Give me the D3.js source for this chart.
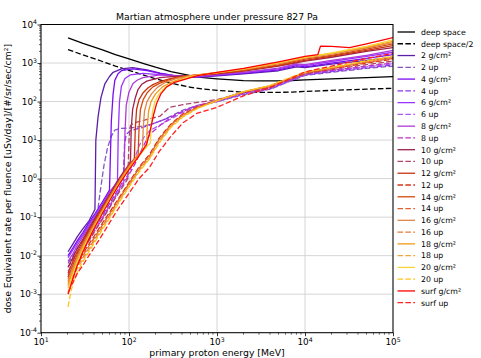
<!DOCTYPE html>
<html><head><meta charset="utf-8">
<script src="https://cdn.jsdelivr.net/npm/d3@7"></script>
<style>body{margin:0;background:#fff}svg{display:block}text{font-family:"DejaVu Sans",sans-serif}</style>
</head><body><svg id="c" width="481" height="358"></svg>
<script>
// ---- data: [energy MeV, dose rate per fluence] ----
const deepSpace=[[20.3,4470],[30,3240],[50,2190],[70,1660],[100,1290],[150,955],[200,780],[300,600],[500,470],[700,420],[1000,390],[1500,365],[2000,350],[3000,345],[5000,345],[7000,352],[10000,365],[20000,390],[50000,420],[100000,442]];
const deepSpaceHalf=[[20.3,2235],[30,1620],[50,1095],[70,830],[100,645],[150,478],[200,390],[300,300],[500,235],[700,210],[1000,195],[1500,183],[2000,175],[3000,173],[5000,173],[7000,176],[10000,183],[20000,195],[50000,210],[100000,221]];
const g2=[[20.3,0.0126],[23,0.020],[26,0.0316],[30,0.050],[35,0.079],[41,0.158],[42,10],[44.5,40],[48,126],[53,282],[60,447],[66,575],[82,708],[110,759],[160,661],[225,550],[350,457],[500,427],[700,437],[1000,468],[2000,525],[5000,631],[8000,794],[10000,759],[20000,933],[50000,1175],[100000,1413]];
const up2=[[20.3,0.0063],[23,0.010],[26,0.0158],[30,0.025],[35,0.0447],[40,0.079],[44,0.141],[47,0.447],[52,2.24],[57,6.31],[63,12.6],[69,18.2],[80,20],[102,20.4],[140,22.9],[173,25.1],[230,31.6],[300,41.7],[411,60.3],[600,79.4],[1000,100],[2000,151],[4000,209],[10000,479],[20000,575],[50000,724],[100000,832]];
const g4=[[20.3,0.010],[23,0.0158],[26,0.025],[30,0.040],[35,0.0708],[40,0.112],[50,0.251],[60,0.501],[61.5,3.98],[63,31.6],[66,158],[69,355],[75,525],[82,631],[110,708],[160,631],[225,537],[350,457],[500,437],[700,447],[1000,479],[2000,537],[5000,661],[8000,851],[10000,794],[20000,1000],[50000,1318],[100000,1660]];
const up4=[[20.3,0.0050],[23,0.0079],[26,0.012],[30,0.0178],[35,0.0316],[40,0.0525],[50,0.112],[60,0.224],[70,0.398],[80,0.661],[86,0.891],[89,7.94],[93,14.1],[105,17.8],[140,20.9],[200,28.2],[300,39.8],[411,56.2],[600,75.9],[1000,100],[2000,158],[4000,214],[10000,490],[20000,603],[50000,759],[100000,891]];
const g6=[[20.3,0.0089],[23,0.0141],[26,0.0224],[30,0.0355],[35,0.063],[40,0.10],[50,0.224],[60,0.447],[70,0.708],[74,0.891],[75.5,15.8],[78,100],[82,251],[90,398],[103,490],[144,537],[225,501],[350,447],[500,437],[700,457],[1000,490],[2000,562],[5000,708],[8000,912],[10000,851],[20000,1096],[50000,1479],[100000,1905]];
const up6=[[20.3,0.0040],[23,0.0063],[26,0.010],[30,0.0158],[35,0.0282],[40,0.0468],[50,0.10],[60,0.20],[70,0.355],[80,0.603],[90,0.955],[100,1.41],[115,3.16],[130,7.08],[150,12.6],[173,17.8],[230,25.1],[300,35.5],[411,52.5],[600,75.9],[1000,102],[2000,162],[4000,224],[10000,501],[20000,631],[50000,794],[100000,955]];
const g8=[[20.3,0.0071],[23,0.0112],[26,0.0191],[30,0.0316],[35,0.0562],[40,0.0891],[50,0.20],[60,0.398],[70,0.708],[80,1.12],[88,1.58],[90,15.8],[93,79],[100,178],[111,295],[125,363],[144,417],[225,490],[350,468],[500,457],[700,468],[1000,501],[2000,575],[5000,741],[8000,955],[10000,912],[20000,1175],[50000,1585],[100000,2138]];
const up8=[[20.3,0.00316],[23,0.00525],[26,0.0087],[30,0.0141],[35,0.025],[40,0.0417],[50,0.0933],[60,0.182],[70,0.331],[80,0.55],[90,0.851],[100,1.26],[115,2.24],[130,3.98],[150,7.94],[173,14.1],[230,25.1],[300,38.0],[411,56.2],[600,79.4],[1000,105],[2000,166],[4000,229],[10000,513],[20000,646],[50000,832],[100000,1000]];
const g10=[[20.3,0.0050],[23,0.0089],[26,0.0158],[30,0.0269],[35,0.050],[40,0.0832],[50,0.191],[60,0.380],[70,0.676],[80,1.12],[90,1.66],[100,2.34],[104,2.82],[106,20],[110,63],[118,126],[126,200],[140,282],[159,339],[225,417],[350,457],[500,468],[700,490],[1000,525],[2000,617],[5000,832],[10000,1122],[20000,1413],[50000,1995],[100000,2512]];
const up10=[[20.3,0.00282],[23,0.0050],[26,0.0083],[30,0.0135],[35,0.024],[40,0.0398],[50,0.0891],[60,0.174],[70,0.316],[80,0.501],[90,0.759],[97,1.0],[100,10],[104,24],[115,28.2],[170,35.5],[225,41.7],[290,70.8],[411,83.2],[600,95.5],[1000,112],[2000,174],[4000,240],[10000,525],[20000,676],[50000,912],[100000,1122]];
const g12=[[20.3,0.00355],[23,0.00708],[26,0.0132],[30,0.024],[35,0.0447],[40,0.0759],[50,0.178],[60,0.355],[70,0.631],[80,1.05],[90,1.58],[100,2.24],[115,3.31],[118,20],[122,63],[130,112],[144,166],[165,229],[187,275],[225,331],[300,398],[400,447],[500,468],[700,501],[1000,537],[2000,631],[5000,851],[10000,1175],[20000,1514],[50000,2138],[100000,2818]];
const up12=[[20.3,0.00251],[23,0.00417],[26,0.00708],[30,0.0112],[35,0.020],[40,0.0316],[50,0.0708],[60,0.132],[70,0.229],[80,0.363],[100,0.794],[130,2.0],[170,4.17],[220,11.2],[300,26.3],[411,47.9],[600,72.4],[1000,107],[2000,174],[4000,245],[10000,550],[20000,708],[50000,1000],[100000,1259]];
const g14=[[20.3,0.00282],[23,0.00562],[26,0.0112],[30,0.0209],[35,0.0398],[40,0.0692],[50,0.166],[60,0.339],[70,0.603],[80,1.0],[90,1.51],[100,2.14],[115,3.16],[127,4.17],[130,20],[135,63],[145,112],[160,166],[187,240],[225,302],[300,380],[400,437],[500,468],[700,501],[1000,550],[2000,646],[5000,891],[10000,1259],[20000,1585],[50000,2291],[100000,3162]];
const up14=[[20.3,0.0020],[23,0.00355],[26,0.0063],[30,0.010],[35,0.0178],[40,0.0282],[50,0.063],[60,0.120],[70,0.209],[80,0.339],[100,0.741],[130,1.86],[170,3.80],[220,10.5],[300,25.1],[411,45.7],[600,70.8],[1000,107],[2000,178],[4000,251],[10000,562],[20000,724],[50000,1047],[100000,1318]];
const g16=[[20.3,0.00224],[23,0.00479],[26,0.00955],[30,0.0186],[35,0.0363],[40,0.063],[50,0.155],[60,0.316],[70,0.575],[80,0.955],[90,1.45],[100,2.04],[120,3.55],[142,5.25],[145,20],[150,56],[160,100],[180,158],[210,234],[260,316],[350,398],[500,468],[700,513],[1000,562],[2000,676],[5000,955],[10000,1349],[20000,1698],[50000,2455],[100000,3388]];
const up16=[[20.3,0.00158],[23,0.00302],[26,0.0055],[30,0.0089],[35,0.0158],[40,0.025],[50,0.0575],[60,0.110],[70,0.191],[80,0.316],[100,0.692],[130,1.70],[170,3.55],[220,9.55],[300,23.4],[411,43.7],[600,69.2],[1000,105],[2000,178],[4000,257],[10000,562],[20000,741],[50000,1072],[100000,1380]];
const g18=[[20.3,0.00178],[23,0.00398],[26,0.00832],[30,0.0166],[35,0.0331],[40,0.0589],[50,0.145],[60,0.295],[70,0.537],[80,0.891],[90,1.35],[100,1.91],[120,3.31],[140,5.01],[158,6.61],[161,20],[167,56],[178,100],[200,158],[240,240],[300,316],[400,398],[500,457],[700,513],[1000,562],[2000,692],[5000,1000],[10000,1380],[20000,1778],[50000,2570],[100000,3631]];
const up18=[[20.3,0.0010],[23,0.00251],[26,0.00479],[30,0.0079],[35,0.0141],[40,0.0229],[50,0.0525],[60,0.10],[70,0.178],[80,0.295],[100,0.646],[130,1.58],[170,3.31],[220,8.91],[300,22.4],[411,41.7],[600,67.6],[1000,105],[2000,178],[4000,257],[10000,575],[20000,759],[50000,1122],[100000,1445]];
const g20=[[20.3,0.00141],[23,0.00331],[26,0.00724],[30,0.0148],[35,0.0302],[40,0.0537],[50,0.135],[60,0.275],[70,0.501],[80,0.832],[90,1.26],[100,1.78],[120,3.16],[150,5.75],[175,8.32],[178,20],[185,56],[197,100],[220,158],[260,234],[330,316],[450,417],[600,479],[800,525],[1000,562],[2000,708],[5000,1023],[10000,1413],[20000,1820],[50000,2692],[100000,3981]];
const up20=[[20.3,0.00047],[22,0.00126],[24,0.00251],[27,0.00447],[30,0.00708],[35,0.0126],[40,0.0209],[50,0.0479],[60,0.0933],[70,0.166],[80,0.275],[100,0.603],[130,1.48],[170,3.16],[220,8.32],[300,21.4],[411,39.8],[600,66.1],[1000,105],[2000,182],[4000,263],[10000,589],[20000,776],[50000,1148],[100000,1514]];
const surf=[[20.3,0.0010],[23,0.00251],[26,0.00575],[30,0.0126],[35,0.0269],[40,0.050],[50,0.126],[60,0.263],[70,0.479],[80,0.794],[90,1.20],[100,1.70],[120,3.02],[140,5.01],[159,7.94],[173,16.6],[190,44.7],[206,89],[230,158],[268,240],[330,316],[411,363],[600,468],[1000,575],[2000,724],[5000,1072],[10000,1479],[14000,1660],[15000,2754],[20000,2692],[32000,2512],[50000,3162],[100000,4571]];
const surfUp=[[20.3,0.00112],[23,0.0020],[26,0.00355],[30,0.00562],[35,0.010],[40,0.0158],[50,0.0355],[60,0.0708],[70,0.126],[80,0.20],[100,0.417],[130,1.0],[170,1.91],[220,5.01],[300,12.6],[411,28.2],[600,50.1],[1000,70.8],[2000,141],[4000,229],[10000,589],[20000,832],[50000,1318],[100000,1778]];

const seriesNames=["deep space","deep space/2","2 g/cm²","2 up","4 g/cm²","4 up","6 g/cm²","6 up","8 g/cm²","8 up","10 g/cm²","10 up","12 g/cm²","12 up","14 g/cm²","14 up","16 g/cm²","16 up","18 g/cm²","18 up","20 g/cm²","20 up","surf g/cm²","surf up"];
const seriesData=[deepSpace,deepSpaceHalf,g2,up2,g4,up4,g6,up6,g8,up8,g10,up10,g12,up12,g14,up14,g16,up16,g18,up18,g20,up20,surf,surfUp];
const xTicks=[10,100,1000,10000,100000];
const yTicks=[1e-4,1e-3,1e-2,1e-1,1,10,100,1000,10000];

// ---- styles ----
const colors=["#000000","#000000","#5a1fa6","#8656c2","#7a0cf5","#8b34ee","#9933ff","#a95af5","#b03ad8","#c030cc","#a0204e","#b0456c","#c8310f","#d93418","#d8490e","#e0622e","#e0864a","#e8782f","#f29a1a","#f0a53a","#f8d33a","#ffc417","#ff0000","#ff1f1f"];
const dashed=seriesNames.map(n=>/up$|\/2$/.test(n));

const svg=d3.select("#c");
const L=41,R=393,T=24.5,B=332.7;
const x=d3.scaleLog().domain([10,1e5]).range([L,R]);
const y=d3.scaleLog().domain([1e-4,1e4]).range([B,T]);
const font='"DejaVu Sans",sans-serif';

// grid
const g=svg.append("g");
g.selectAll("line.gx").data(xTicks).join("line").attr("x1",d=>x(d)).attr("x2",d=>x(d)).attr("y1",T).attr("y2",B).attr("stroke","#d0d0d0").attr("stroke-width",0.9);
g.selectAll("line.gy").data(yTicks).join("line").attr("y1",d=>y(d)).attr("y2",d=>y(d)).attr("x1",L).attr("x2",R).attr("stroke","#d0d0d0").attr("stroke-width",0.9);

// lines
svg.append("clipPath").attr("id","clip").append("rect").attr("x",L).attr("y",T).attr("width",R-L).attr("height",B-T);
const line=d3.line().x(d=>x(d[0])).y(d=>y(d[1]));
const pl=svg.append("g").attr("clip-path","url(#clip)");
seriesData.forEach((s,i)=>{
  pl.append("path").attr("d",line(s)).attr("fill","none").attr("stroke",colors[i])
    .attr("stroke-width",1.3).attr("stroke-dasharray",dashed[i]?"5.5,2.4":null).attr("stroke-linejoin","round");
});

// axes
const xa=d3.axisBottom(x).tickValues(xTicks).tickSize(3.5).tickFormat("");
const ya=d3.axisLeft(y).tickValues(yTicks).tickSize(3.5).tickFormat("");
svg.append("g").attr("transform",`translate(0,${B})`).call(xa).call(a=>a.select(".domain").remove());
svg.append("g").attr("transform",`translate(${L},0)`).call(ya).call(a=>a.select(".domain").remove());
// minor ticks
const minorY=[];yTicks.slice(0,-1).forEach(t=>{for(let k=2;k<10;k++)minorY.push(t*k);});
svg.append("g").selectAll("line").data(minorY).join("line").attr("x1",L).attr("x2",L-2).attr("y1",d=>y(d)).attr("y2",d=>y(d)).attr("stroke","#000").attr("stroke-width",0.6);
const minorX=[];xTicks.slice(0,-1).forEach(t=>{for(let k=2;k<10;k++)minorX.push(t*k);});
svg.append("g").selectAll("line").data(minorX).join("line").attr("y1",B).attr("y2",B+2).attr("x1",d=>x(d)).attr("x2",d=>x(d)).attr("stroke","#000").attr("stroke-width",0.6);
svg.selectAll(".tick line").attr("stroke","#000").attr("stroke-width",0.8);
svg.append("rect").attr("x",L).attr("y",T).attr("width",R-L).attr("height",B-T).attr("fill","none").attr("stroke","#000").attr("stroke-width",1);

// tick labels
const exp=v=>Math.round(Math.log10(v));
xTicks.forEach(v=>{
  const t=svg.append("text").attr("x",x(v)).attr("y",345).attr("text-anchor","middle").attr("font-size",8.8).attr("font-family",font).attr("fill","#000");
  t.append("tspan").text("10");
  t.append("tspan").attr("dy",-3.5).attr("font-size",6.2).text(exp(v));
});
yTicks.forEach(v=>{
  const t=svg.append("text").attr("x",37).attr("y",y(v)+3.2).attr("text-anchor","end").attr("font-size",8.8).attr("font-family",font).attr("fill","#000");
  t.append("tspan").text("10");
  t.append("tspan").attr("dy",-3.5).attr("font-size",6.2).text(exp(v));
});

// title & labels
svg.append("text").attr("x",(L+R)/2).attr("y",19.5).attr("text-anchor","middle").attr("font-size",9.3).attr("font-family",font).text("Martian atmosphere under pressure 827 Pa");
svg.append("text").attr("x",(L+R)/2).attr("y",355.5).attr("text-anchor","middle").attr("font-size",9.3).attr("font-family",font).text("primary proton energy [MeV]");
svg.append("text").attr("transform",`translate(10.5,${(T+B)/2}) rotate(-90)`).attr("text-anchor","middle").attr("font-size",9.3).attr("font-family",font).text("dose Equivalent rate per fluence [uSv/day]/[#/sr/sec/cm²]");

// legend
const lg=svg.append("g");
seriesNames.forEach((n,i)=>{
  const yy=32+i*11.77;
  lg.append("line").attr("x1",397.5).attr("x2",415).attr("y1",yy).attr("y2",yy).attr("stroke",colors[i]).attr("stroke-width",1.3).attr("stroke-dasharray",dashed[i]?"5.5,2.4":null);
  lg.append("text").attr("x",421).attr("y",yy+2.8).attr("font-size",7.8).attr("font-family",font).text(n);
});
</script></body></html>
